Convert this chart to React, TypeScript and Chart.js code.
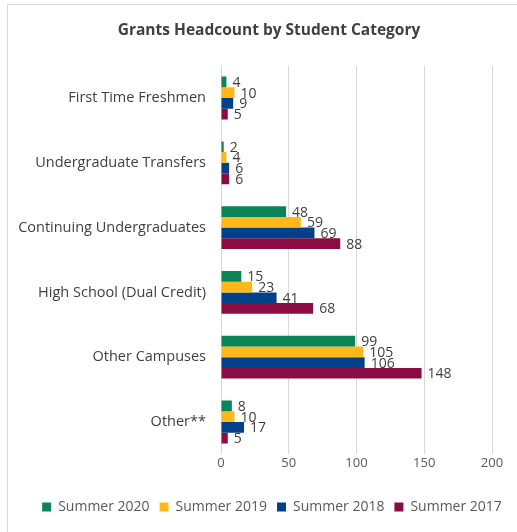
import React, { useEffect, useRef } from "react";
import { Chart, registerables } from "chart.js";

Chart.register(...registerables);

const categories = [
  "First Time Freshmen",
  "Undergraduate Transfers",
  "Continuing Undergraduates",
  "High School (Dual Credit)",
  "Other Campuses",
  "Other**",
];
const seriesNames = ["Summer 2020", "Summer 2019", "Summer 2018", "Summer 2017"];
const summer2020 = [4, 2, 48, 15, 99, 8];
const summer2019 = [10, 4, 59, 23, 105, 10];
const summer2018 = [9, 6, 69, 41, 106, 17];
const summer2017 = [5, 6, 88, 68, 148, 5];
const seriesColors = ["#0A8457", "#FFB81C", "#00418A", "#8A0C42"];
const xMin = 0;
const xMax = 200;
const xStep = 50;
const titleText = "Grants Headcount by Student Category";

const FONT = "'Open Sans', 'Liberation Sans', sans-serif";

const labelPlugin = {
  id: "barLabels",
  afterDatasetsDraw(chart: any) {
    const ctx = chart.ctx;
    ctx.save();
    ctx.font = `14px ${FONT}`;
    ctx.fillStyle = "#404040";
    ctx.textAlign = "left";
    ctx.textBaseline = "middle";
    chart.data.datasets.forEach((ds: any, di: number) => {
      const meta = chart.getDatasetMeta(di);
      meta.data.forEach((el: any, i: number) => {
        ctx.fillText(String(ds.data[i]), el.x + 6, el.y + 1);
      });
    });
    ctx.restore();
  },
};

const framePlugin = {
  id: "frame",
  afterLayout(chart: any) {
    if (chart.legend) {
      chart.legend.left += 26;
      chart.legend.right += 26;
    }
    if (chart.titleBlock) {
      chart.titleBlock.left += 23;
      chart.titleBlock.right += 23;
    }
  },
  beforeDraw(chart: any) {
    const ctx = chart.ctx;
    ctx.save();
    ctx.fillStyle = "#ffffff";
    ctx.fillRect(0, 0, chart.width, chart.height);
    ctx.strokeStyle = "#d9d9d9";
    ctx.lineWidth = 1;
    ctx.beginPath();
    ctx.moveTo(7.5, chart.height);
    ctx.lineTo(7.5, 4.5);
    ctx.lineTo(chart.width, 4.5);
    ctx.stroke();
    ctx.restore();
  },
};

export default function App() {
  const ref = useRef<HTMLCanvasElement>(null);
  useEffect(() => {
    if (!ref.current) return;
    const data = [summer2020, summer2019, summer2018, summer2017];
    const chart = new Chart(ref.current, {
      type: "bar",
      data: {
        labels: categories,
        datasets: seriesNames.map((n, i) => ({
          label: n,
          data: data[i],
          backgroundColor: seriesColors[i],
          borderWidth: 0,
          barPercentage: 1,
          categoryPercentage: 0.66,
        })),
      },
      options: {
        indexAxis: "y",
        animation: false,
        responsive: false,
        layout: { padding: { left: 0, right: 25, top: 0, bottom: 8 } },
        plugins: {
          title: {
            display: true,
            text: titleText,
            color: "#404040",
            font: { family: FONT, size: 15.5, weight: "bold" },
            padding: { top: 21, bottom: 26 },
          },
          legend: {
            position: "bottom",
            labels: {
              boxWidth: 9,
              boxHeight: 9,
              color: "#595959",
              font: { family: FONT, size: 14 },
              padding: 10,
            },
          },
          tooltip: { enabled: false },
        },
        scales: {
          x: {
            min: xMin,
            max: xMax,
            ticks: {
              stepSize: xStep,
              color: "#595959",
              font: { family: FONT, size: 13 },
              padding: 1,
            },
            grid: { color: "#d9d9d9", drawTicks: false },
            border: { display: false },
            afterFit(scale: any) {
              scale.height = scale.height + 18;
            },
          },
          y: {
            ticks: {
              color: "#404040",
              font: { family: FONT, size: 14.5 },
              padding: 15,
            },
            grid: { display: false, drawTicks: false },
            border: { display: false },
            afterFit(scale: any) {
              scale.width = 221;
            },
          },
        },
      },
      plugins: [framePlugin, labelPlugin],
    });
    return () => chart.destroy();
  }, []);
  return (
    <div style={{ position: "absolute", left: 0, top: 0, width: 517, height: 532 }}>
      <canvas ref={ref} width={517} height={532} />
    </div>
  );
}
